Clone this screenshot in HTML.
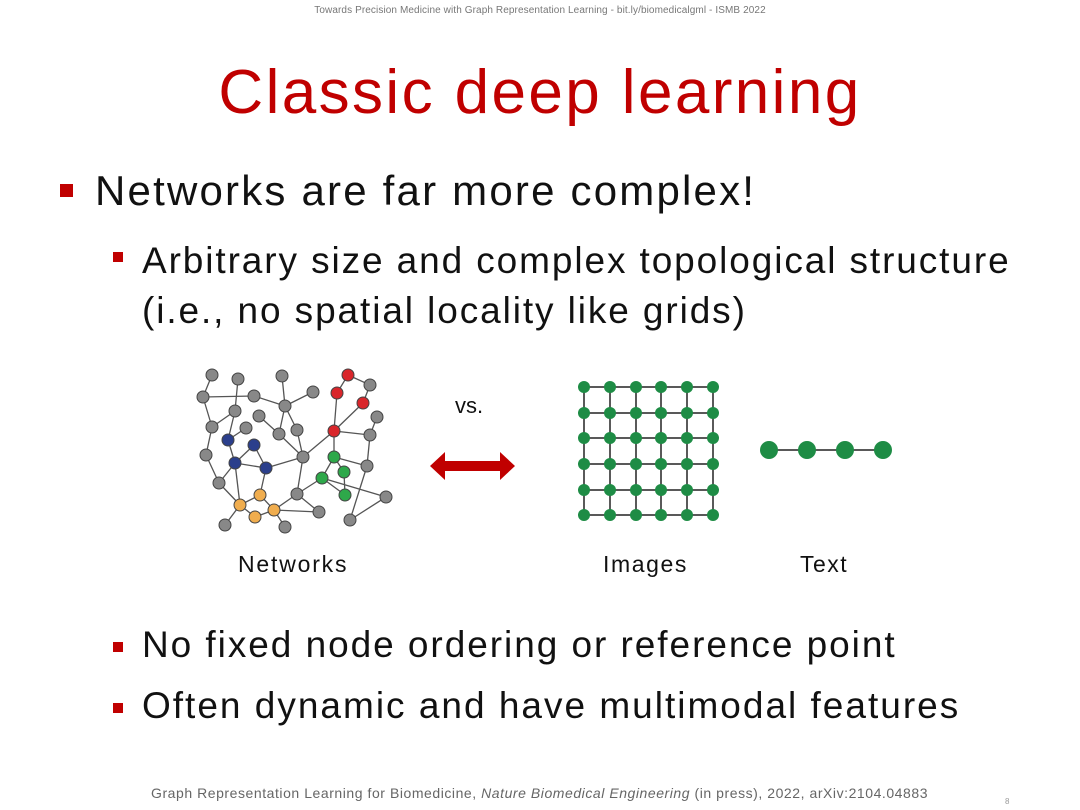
<!DOCTYPE html>
<html><head><meta charset="utf-8"><style>
body{margin:0;width:1080px;height:810px;background:#fff;overflow:hidden;position:relative;font-family:"Liberation Sans",sans-serif;color:#111}
.a{position:absolute;white-space:nowrap}
.sq{position:absolute;background:#c00000}
</style></head><body>
<div class="a" style="left:0;width:1080px;text-align:center;top:5px;font-size:10px;color:#777;letter-spacing:0.1px">Towards Precision Medicine with Graph Representation Learning - bit.ly/biomedicalgml - ISMB 2022</div>
<div class="a" style="left:0;width:1080px;text-align:center;top:57px;font-size:62px;color:#c00000;letter-spacing:2.4px">Classic deep learning</div>
<div class="sq" style="left:60px;top:184px;width:13px;height:13px"></div>
<div class="a" style="left:95px;top:167px;font-size:42px;letter-spacing:2.2px">Networks are far more complex!</div>
<div class="sq" style="left:113px;top:252px;width:10px;height:10px"></div>
<div class="a" style="left:142px;top:236px;font-size:37px;line-height:50px;letter-spacing:1.9px">Arbitrary size and complex topological structure<br>(i.e., no spatial locality like grids)</div>
<div class="sq" style="left:113px;top:642px;width:10px;height:10px"></div>
<div class="a" style="left:142px;top:624px;font-size:37px;letter-spacing:1.95px">No fixed node ordering or reference point</div>
<div class="sq" style="left:113px;top:703px;width:10px;height:10px"></div>
<div class="a" style="left:142px;top:685px;font-size:37px;letter-spacing:2px">Often dynamic and have multimodal features</div>
<div class="a" style="left:238px;top:551px;font-size:23px;letter-spacing:1.8px">Networks</div>
<div class="a" style="left:603px;top:551px;font-size:23px;letter-spacing:1.6px">Images</div>
<div class="a" style="left:800px;top:551px;font-size:23px;letter-spacing:1.5px">Text</div>
<div class="a" style="left:455px;top:393px;font-size:22px">vs.</div>
<div class="a" style="left:151px;top:785px;font-size:14px;color:#666;letter-spacing:0.55px">Graph Representation Learning for Biomedicine, <i>Nature Biomedical Engineering</i> (in press), 2022, arXiv:2104.04883</div>
<div class="a" style="left:1005px;top:797px;font-size:8px;color:#999">8</div>
<svg width="1080" height="810" style="position:absolute;left:0;top:0">
<g stroke="#555" stroke-width="1.3">
<line x1="212" y1="375" x2="203" y2="397"/><line x1="203" y1="397" x2="254" y2="396"/><line x1="238" y1="379" x2="235" y2="411"/>
<line x1="203" y1="397" x2="212" y2="427"/><line x1="212" y1="427" x2="235" y2="411"/><line x1="235" y1="411" x2="228" y2="440"/>
<line x1="228" y1="440" x2="246" y2="428"/><line x1="228" y1="440" x2="235" y2="463"/><line x1="212" y1="427" x2="206" y2="455"/>
<line x1="206" y1="455" x2="219" y2="483"/><line x1="219" y1="483" x2="235" y2="463"/><line x1="235" y1="463" x2="254" y2="445"/>
<line x1="235" y1="463" x2="266" y2="468"/><line x1="254" y1="445" x2="266" y2="468"/><line x1="235" y1="463" x2="240" y2="505"/>
<line x1="219" y1="483" x2="240" y2="505"/><line x1="260" y1="495" x2="266" y2="468"/><line x1="260" y1="495" x2="274" y2="510"/>
<line x1="240" y1="505" x2="260" y2="495"/><line x1="240" y1="505" x2="255" y2="517"/><line x1="255" y1="517" x2="274" y2="510"/>
<line x1="240" y1="505" x2="225" y2="525"/><line x1="274" y1="510" x2="285" y2="527"/><line x1="274" y1="510" x2="297" y2="494"/>
<line x1="274" y1="510" x2="319" y2="512"/><line x1="297" y1="494" x2="319" y2="512"/><line x1="297" y1="494" x2="303" y2="457"/>
<line x1="303" y1="457" x2="266" y2="468"/><line x1="303" y1="457" x2="297" y2="430"/><line x1="303" y1="457" x2="279" y2="434"/>
<line x1="279" y1="434" x2="285" y2="406"/><line x1="285" y1="406" x2="282" y2="376"/><line x1="285" y1="406" x2="313" y2="392"/>
<line x1="285" y1="406" x2="254" y2="396"/><line x1="285" y1="406" x2="297" y2="430"/><line x1="259" y1="416" x2="279" y2="434"/>
<line x1="303" y1="457" x2="334" y2="431"/><line x1="334" y1="431" x2="337" y2="393"/><line x1="337" y1="393" x2="348" y2="375"/>
<line x1="348" y1="375" x2="370" y2="385"/><line x1="370" y1="385" x2="363" y2="403"/><line x1="363" y1="403" x2="334" y2="431"/>
<line x1="334" y1="431" x2="334" y2="457"/><line x1="334" y1="431" x2="370" y2="435"/><line x1="370" y1="435" x2="377" y2="417"/>
<line x1="370" y1="435" x2="367" y2="466"/><line x1="334" y1="457" x2="367" y2="466"/><line x1="334" y1="457" x2="344" y2="472"/>
<line x1="334" y1="457" x2="322" y2="478"/><line x1="322" y1="478" x2="345" y2="495"/><line x1="344" y1="472" x2="345" y2="495"/>
<line x1="322" y1="478" x2="297" y2="494"/><line x1="322" y1="478" x2="386" y2="497"/><line x1="386" y1="497" x2="350" y2="520"/>
<line x1="350" y1="520" x2="367" y2="466"/>
</g>
<g stroke="#444" stroke-width="1">
<g fill="#888"><circle cx="212" cy="375" r="6"/><circle cx="238" cy="379" r="6"/><circle cx="282" cy="376" r="6"/><circle cx="203" cy="397" r="6"/><circle cx="254" cy="396" r="6"/><circle cx="313" cy="392" r="6"/><circle cx="285" cy="406" r="6"/><circle cx="235" cy="411" r="6"/><circle cx="259" cy="416" r="6"/><circle cx="212" cy="427" r="6"/><circle cx="246" cy="428" r="6"/><circle cx="279" cy="434" r="6"/><circle cx="297" cy="430" r="6"/><circle cx="206" cy="455" r="6"/><circle cx="303" cy="457" r="6"/><circle cx="219" cy="483" r="6"/><circle cx="297" cy="494" r="6"/><circle cx="319" cy="512" r="6"/><circle cx="225" cy="525" r="6"/><circle cx="285" cy="527" r="6"/><circle cx="377" cy="417" r="6"/><circle cx="370" cy="435" r="6"/><circle cx="367" cy="466" r="6"/><circle cx="386" cy="497" r="6"/><circle cx="350" cy="520" r="6"/></g>
<g fill="#2b3f8c"><circle cx="228" cy="440" r="6"/><circle cx="254" cy="445" r="6"/><circle cx="235" cy="463" r="6"/><circle cx="266" cy="468" r="6"/></g>
<g fill="#f0ad4e"><circle cx="260" cy="495" r="6"/><circle cx="240" cy="505" r="6"/><circle cx="274" cy="510" r="6"/><circle cx="255" cy="517" r="6"/></g>
<g fill="#d9262b"><circle cx="348" cy="375" r="6"/><circle cx="337" cy="393" r="6"/><circle cx="363" cy="403" r="6"/><circle cx="334" cy="431" r="6"/></g>
<circle cx="370" cy="385" r="6" fill="#888"/>
<g fill="#2ea84a"><circle cx="334" cy="457" r="6"/><circle cx="344" cy="472" r="6"/><circle cx="322" cy="478" r="6"/><circle cx="345" cy="495" r="6"/></g>
</g>
<polygon points="430,466 445,452 445,461 500,461 500,452 515,466 500,480 500,471 445,471 445,480" fill="#c00000"/>
<g stroke="#222" stroke-width="1.5">
<line x1="584" y1="387" x2="713" y2="387"/><line x1="584" y1="413" x2="713" y2="413"/><line x1="584" y1="438" x2="713" y2="438"/><line x1="584" y1="464" x2="713" y2="464"/><line x1="584" y1="490" x2="713" y2="490"/><line x1="584" y1="515" x2="713" y2="515"/>
<line x1="584" y1="387" x2="584" y2="515"/><line x1="610" y1="387" x2="610" y2="515"/><line x1="636" y1="387" x2="636" y2="515"/><line x1="661" y1="387" x2="661" y2="515"/><line x1="687" y1="387" x2="687" y2="515"/><line x1="713" y1="387" x2="713" y2="515"/>
<line x1="769" y1="450" x2="883" y2="450"/>
</g>
<g fill="#1e8c45">
<circle cx="769" cy="450" r="9"/><circle cx="807" cy="450" r="9"/><circle cx="845" cy="450" r="9"/><circle cx="883" cy="450" r="9"/>
</g>
<g fill="#1e8c45">
<circle cx="584" cy="387" r="6"/><circle cx="610" cy="387" r="6"/><circle cx="636" cy="387" r="6"/><circle cx="661" cy="387" r="6"/><circle cx="687" cy="387" r="6"/><circle cx="713" cy="387" r="6"/>
<circle cx="584" cy="413" r="6"/><circle cx="610" cy="413" r="6"/><circle cx="636" cy="413" r="6"/><circle cx="661" cy="413" r="6"/><circle cx="687" cy="413" r="6"/><circle cx="713" cy="413" r="6"/>
<circle cx="584" cy="438" r="6"/><circle cx="610" cy="438" r="6"/><circle cx="636" cy="438" r="6"/><circle cx="661" cy="438" r="6"/><circle cx="687" cy="438" r="6"/><circle cx="713" cy="438" r="6"/>
<circle cx="584" cy="464" r="6"/><circle cx="610" cy="464" r="6"/><circle cx="636" cy="464" r="6"/><circle cx="661" cy="464" r="6"/><circle cx="687" cy="464" r="6"/><circle cx="713" cy="464" r="6"/>
<circle cx="584" cy="490" r="6"/><circle cx="610" cy="490" r="6"/><circle cx="636" cy="490" r="6"/><circle cx="661" cy="490" r="6"/><circle cx="687" cy="490" r="6"/><circle cx="713" cy="490" r="6"/>
<circle cx="584" cy="515" r="6"/><circle cx="610" cy="515" r="6"/><circle cx="636" cy="515" r="6"/><circle cx="661" cy="515" r="6"/><circle cx="687" cy="515" r="6"/><circle cx="713" cy="515" r="6"/>
</g>
</svg>
</body></html>
